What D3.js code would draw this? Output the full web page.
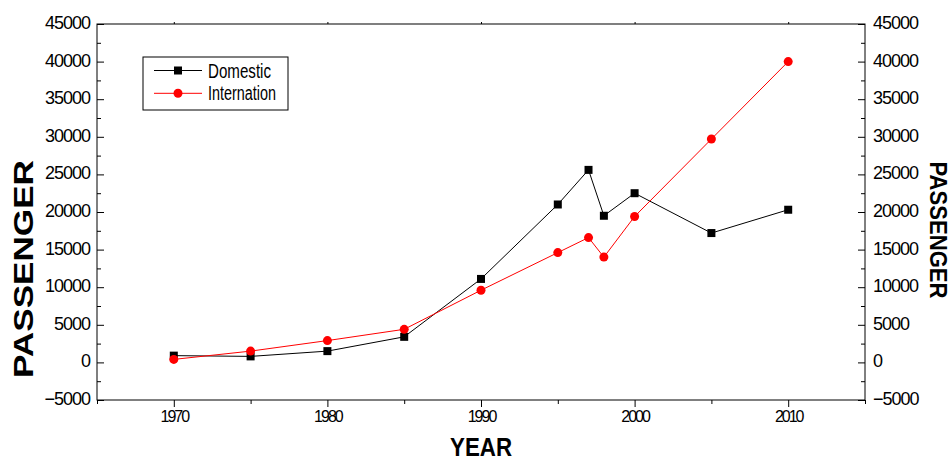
<!DOCTYPE html>
<html>
<head>
<meta charset="utf-8">
<script src="https://cdn.jsdelivr.net/npm/d3@7"></script>
<style>
  html, body { margin: 0; padding: 0; background: #fff; overflow: hidden; }
  svg { display: block; }
  svg text { font-family: "Liberation Sans", Arial, sans-serif; fill: #000; }
</style>
</head>
<body>
<svg id="chart"></svg>
<script>
const years = [1970, 1975, 1980, 1985, 1990, 1995, 1997, 1998, 2000, 2005, 2010];
const domestic = [900, 800, 1500, 3400, 11100, 21000, 25600, 19500, 22500, 17200, 20300];
const internation = [400, 1500, 2900, 4400, 9600, 14600, 16600, 14000, 19400, 29700, 40000];
const yTicks = [-5000, 0, 5000, 10000, 15000, 20000, 25000, 30000, 35000, 40000, 45000];
const yMinor = [-2500, 2500, 7500, 12500, 17500, 22500, 27500, 32500, 37500, 42500];
const xTicks = [1970, 1980, 1990, 2000, 2010];
const xMinor = [1965, 1975, 1985, 1995, 2005, 2015];
const seriesNames = ["Domestic", "Internation"];

const width = 951;
const height = 459;
const margin = { top: 24, right: 86, bottom: 59, left: 97 };
const innerWidth = width - margin.left - margin.right;
const innerHeight = height - margin.top - margin.bottom;

const svg = d3.select("#chart").attr("width", width).attr("height", height);
const g = svg.append("g").attr("transform", `translate(${margin.left},${margin.top})`);

const x = d3.scaleLinear().domain([1965, 2015]).range([0, innerWidth]);
const y = d3.scaleLinear().domain([-5000, 45000]).range([innerHeight, 0]);

// frame
g.append("rect")
  .attr("width", innerWidth)
  .attr("height", innerHeight)
  .attr("fill", "none")
  .attr("stroke", "#000")
  .attr("stroke-width", 1);

function styleAxis(sel) {
  sel.select(".domain").remove();
  sel.selectAll("line").attr("stroke", "#000");
}

// left axis
g.append("g")
  .call(d3.axisLeft(y).tickValues(yTicks).tickSize(-7).tickSizeOuter(0).tickPadding(7).tickFormat(d3.format("d")))
  .call(styleAxis)
  .selectAll("text")
  .attr("dy", null)
  .attr("y", 4.4)
  .style("font-size", "18px")
  .style("letter-spacing", "-1px");
g.append("g")
  .call(d3.axisLeft(y).tickValues(yMinor).tickSize(-4).tickFormat(""))
  .call(styleAxis);

// right axis
g.append("g")
  .attr("transform", `translate(${innerWidth},0)`)
  .call(d3.axisRight(y).tickValues(yTicks).tickSize(-7).tickSizeOuter(0).tickPadding(8).tickFormat(d3.format("d")))
  .call(styleAxis)
  .selectAll("text")
  .attr("dy", null)
  .attr("y", 4.4)
  .style("font-size", "18px")
  .style("letter-spacing", "-1px");
g.append("g")
  .attr("transform", `translate(${innerWidth},0)`)
  .call(d3.axisRight(y).tickValues(yMinor).tickSize(-4).tickFormat(""))
  .call(styleAxis);

// bottom axis
g.append("g")
  .attr("transform", `translate(0,${innerHeight})`)
  .call(d3.axisBottom(x).tickValues(xTicks).tickSize(7).tickFormat(d3.format("d")))
  .call(styleAxis)
  .selectAll("text")
  .attr("dy", null)
  .attr("y", 22)
  .style("font-size", "16px")
  .style("letter-spacing", "-2px");
g.append("g")
  .attr("transform", `translate(0,${innerHeight})`)
  .call(d3.axisBottom(x).tickValues(xMinor).tickSize(4).tickFormat(""))
  .call(styleAxis);

// top axis (small marks)
g.append("g")
  .call(d3.axisTop(x).tickValues(xTicks).tickSize(2).tickFormat(""))
  .call(styleAxis);

// axis titles
svg.append("text")
  .attr("x", margin.left + innerWidth / 2)
  .attr("y", 456)
  .attr("text-anchor", "middle")
  .attr("textLength", 62)
  .attr("lengthAdjust", "spacingAndGlyphs")
  .style("font-size", "26px")
  .style("font-weight", "bold")
  .text("YEAR");

svg.append("text")
  .attr("transform", "translate(33,269) rotate(-90)")
  .attr("text-anchor", "middle")
  .attr("textLength", 218)
  .attr("lengthAdjust", "spacingAndGlyphs")
  .style("font-size", "28px")
  .style("font-weight", "bold")
  .text("PASSENGER");

svg.append("text")
  .attr("transform", "translate(930,230) rotate(90)")
  .attr("text-anchor", "middle")
  .attr("textLength", 137)
  .attr("lengthAdjust", "spacingAndGlyphs")
  .style("font-size", "23px")
  .style("font-weight", "bold")
  .text("PASSENGER");

const line = d3.line().x((d) => x(d[0])).y((d) => y(d[1]));
const domData = years.map((yr, i) => [yr, domestic[i]]);
const intData = years.map((yr, i) => [yr, internation[i]]);

// Domestic
g.append("path")
  .datum(domData)
  .attr("fill", "none")
  .attr("stroke", "#000")
  .attr("stroke-width", 1)
  .attr("d", line);
g.selectAll(".sq")
  .data(domData)
  .enter()
  .append("rect")
  .attr("class", "sq")
  .attr("x", (d) => x(d[0]) - 4)
  .attr("y", (d) => y(d[1]) - 4)
  .attr("width", 8)
  .attr("height", 8)
  .attr("fill", "#000");

// Internation
g.append("path")
  .datum(intData)
  .attr("fill", "none")
  .attr("stroke", "#ff0000")
  .attr("stroke-width", 1)
  .attr("d", line);
g.selectAll(".dot")
  .data(intData)
  .enter()
  .append("circle")
  .attr("class", "dot")
  .attr("cx", (d) => x(d[0]))
  .attr("cy", (d) => y(d[1]))
  .attr("r", 4.5)
  .attr("fill", "#ff0000");

// legend
const legend = svg.append("g").attr("transform", "translate(143,57)");
legend.append("rect")
  .attr("width", 145)
  .attr("height", 53)
  .attr("fill", "#fff")
  .attr("stroke", "#000");

const rows = [
  { name: seriesNames[0], color: "#000", cy: 13.5, len: 63 },
  { name: seriesNames[1], color: "#ff0000", cy: 36.3, len: 68 },
];
rows.forEach((r, i) => {
  legend.append("line")
    .attr("x1", 11).attr("x2", 59)
    .attr("y1", r.cy).attr("y2", r.cy)
    .attr("stroke", r.color);
  if (i === 0) {
    legend.append("rect")
      .attr("x", 31).attr("y", r.cy - 4)
      .attr("width", 8).attr("height", 8)
      .attr("fill", r.color);
  } else {
    legend.append("circle")
      .attr("cx", 35).attr("cy", r.cy)
      .attr("r", 4.5)
      .attr("fill", r.color);
  }
  legend.append("text")
    .attr("x", 65)
    .attr("y", r.cy + 7)
    .attr("textLength", r.len)
    .attr("lengthAdjust", "spacingAndGlyphs")
    .style("font-size", "20px")
    .text(r.name);
});
</script>
</body>
</html>
